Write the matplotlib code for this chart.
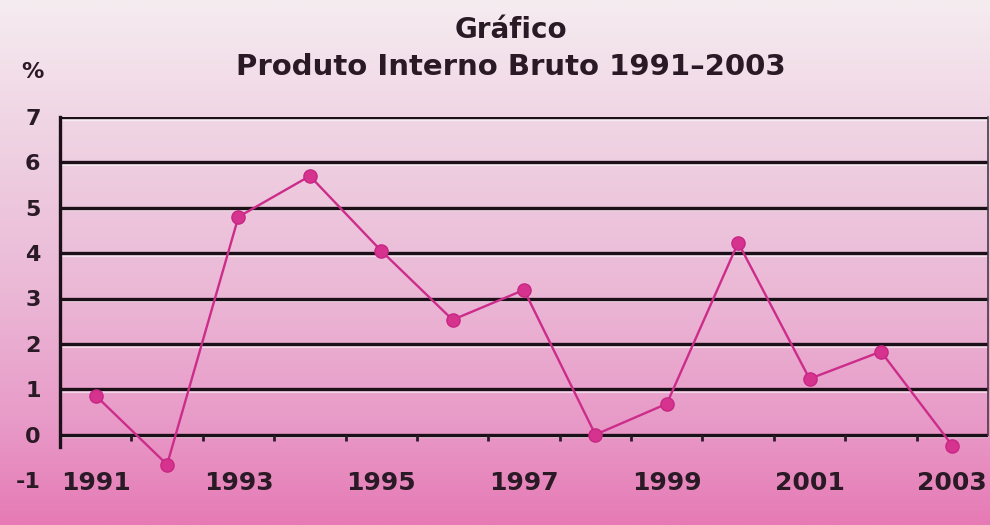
import numpy as np
import matplotlib
matplotlib.use("Agg")
import matplotlib.pyplot as plt
from matplotlib.colors import LinearSegmentedColormap

years = [1991, 1992, 1993, 1994, 1995, 1996, 1997, 1998, 1999, 2000, 2001, 2002, 2003]
pib = [0.86, -0.66, 4.8, 5.7, 4.05, 2.53, 3.19, 0.0, 0.68, 4.23, 1.23, 1.83, -0.24]
x_labels = ["1991", "1993", "1995", "1997", "1999", "2001", "2003"]
y_ticks = [-1, 0, 1, 2, 3, 4, 5, 6, 7]
title1 = "Gráfico"
title2 = "Produto Interno Bruto 1991–2003"

plt.rcParams['font.family'] = ['DejaVu Sans']
txt = '#2a1a26'

fig = plt.figure(figsize=(9.9, 5.25), dpi=100)

# background gradient
bg = fig.add_axes([0, 0, 1, 1], zorder=-10)
cmap = LinearSegmentedColormap.from_list('bg', [
    (0.0, '#f5ecf0'), (0.15, '#f2dde8'), (0.3, '#eecfe1'),
    (0.55, '#ebb8d6'), (0.8, '#e89bc8'), (1.0, '#e67ab5')])
grad = np.linspace(0, 1, 256).reshape(-1, 1)
bg.imshow(grad, aspect='auto', cmap=cmap, extent=[0, 1, 1, 0])
bg.set_axis_off()

left_px, right_px = 60, 988
top_px, bot_px = 117, 480
ax = fig.add_axes([left_px / 990, (525 - bot_px) / 525,
                   (right_px - left_px) / 990, (bot_px - top_px) / 525])
ax.patch.set_alpha(0)

idx = np.arange(len(years))
ax.set_xlim(-0.5, len(years) - 0.5)
ax.set_ylim(-1, 7)

# gridlines with light highlight beneath
for v in range(0, 8):
    ax.axhline(v - 0.06, color='#ffffff', lw=1.6, alpha=0.55, zorder=1)
    ax.axhline(v, color='#1c1018', lw=2.4, zorder=2)

ax.plot(idx, pib, color='#cc2c8a', lw=1.7, marker='o', ms=9.5,
        mfc='#d6338f', mec='#c82684', zorder=5, clip_on=False)

for s in ['top', 'bottom']:
    ax.spines[s].set_visible(False)
ax.spines['left'].set_bounds(-0.28, 7)
ax.spines['left'].set_linewidth(2.4)
ax.spines['left'].set_color('#1c1018')
ax.spines['right'].set_bounds(0, 7)
ax.spines['right'].set_linewidth(1.2)
ax.spines['right'].set_color('#4a3a44')

ax.set_yticks(y_ticks)
ax.set_yticklabels([str(v) for v in y_ticks], fontsize=16, fontweight='bold', color=txt)
ax.tick_params(axis='y', length=0, pad=14)

# boundary ticks on the zero line
boundaries = np.arange(0.5, len(years) - 0.5, 1.0)
ax.set_xticks([])
ax.vlines(boundaries, -0.14, 0, color='#2a1a26', lw=2.0, zorder=2)

for lab in x_labels:
    xi = years.index(int(lab))
    ax.text(xi, -1, lab, ha='center', va='center_baseline', fontsize=18,
            fontweight='bold', color=txt)

fig.text(0.516, 0.943, title1, ha='center', va='center', fontsize=20,
         fontweight='bold', color=txt)
fig.text(0.516, 0.872, title2, ha='center', va='center', fontsize=21,
         fontweight='bold', color=txt)
fig.text(0.033, 0.862, '%', ha='center', va='center', fontsize=16,
         fontweight='bold', color=txt)

fig.savefig('out.png', dpi=100)
